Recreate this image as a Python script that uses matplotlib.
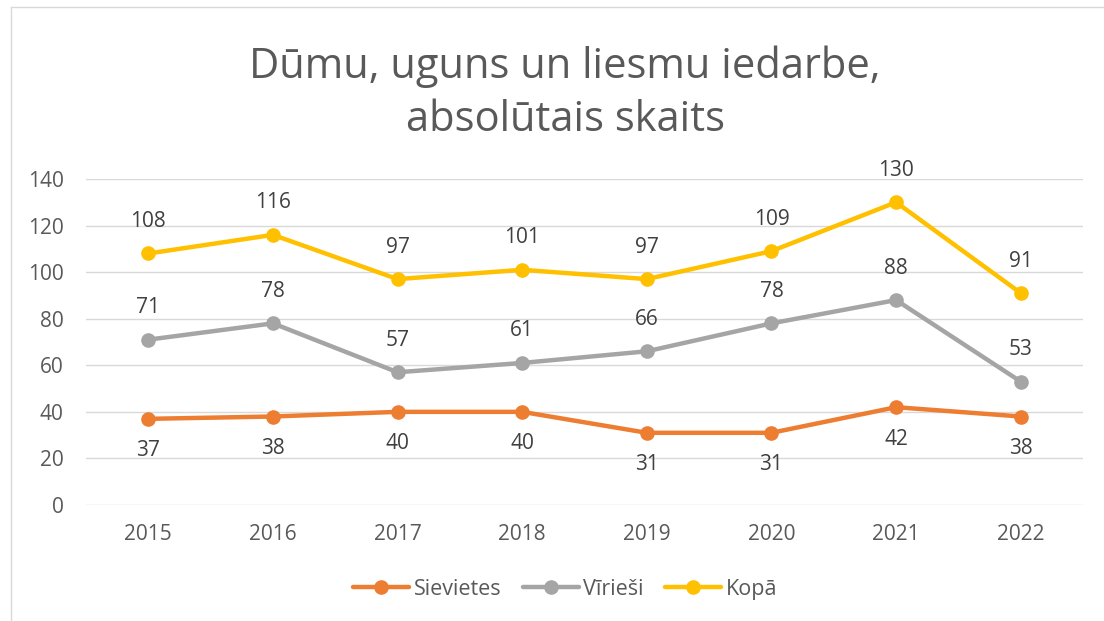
import matplotlib.pyplot as plt
from matplotlib.lines import Line2D

years = ['2015', '2016', '2017', '2018', '2019', '2020', '2021', '2022']
sievietes = [37, 38, 40, 40, 31, 31, 42, 38]
virriesi = [71, 78, 57, 61, 66, 78, 88, 53]
kopa = [108, 116, 97, 101, 97, 109, 130, 91]

plt.rcParams['font.family'] = ['Open Sans', 'DejaVu Sans']
text_color = '#595959'

fig = plt.figure(figsize=(11.04, 6.21), dpi=100)
ax = fig.add_axes([0.0779, 0.1868, 0.9031, 0.525])

x = list(range(len(years)))
series = [
    (sievietes, 'Sievietes', '#ED7D31', -1),
    (virriesi, 'Vīrieši', '#A5A5A5', 1),
    (kopa, 'Kopā', '#FFC000', 1),
]
handles = []
for vals, name, color, side in series:
    line, = ax.plot(x, vals, color=color, lw=3.2, marker='o', markersize=9.5,
                    solid_capstyle='round', label=name, zorder=3)
    handles.append(line)
    for xi, v in zip(x, vals):
        ax.annotate(str(v), (xi, v), xytext=(0, 23 * side), textcoords='offset points',
                    ha='center', va='center', fontsize=15, color='#404040')

ax.set_xlim(-0.5, len(years) - 0.5)
ax.set_ylim(0, 140)
ax.set_yticks(range(0, 141, 20))
ax.set_xticks(x)
ax.set_xticklabels(years)
ax.tick_params(length=0, labelsize=15, labelcolor=text_color)
ax.tick_params(axis='y', pad=16)
ax.tick_params(axis='x', pad=14)
ax.grid(axis='y', color='#D9D9D9', lw=1)
ax.set_axisbelow(True)
for s in ax.spines.values():
    s.set_visible(False)

fig.text(0.512, 0.85, 'Dūmu, uguns un liesmu iedarbe,\nabsolūtais skaits', ha='center', va='center',
         fontsize=30, color=text_color, linespacing=1.32)

fig.legend(handles=handles, loc='center', bbox_to_anchor=(0.512, 0.051), ncol=3, frameon=False,
           fontsize=15.5, labelcolor=text_color, handlelength=2.6, columnspacing=1.0, handletextpad=0.2)

# chart frame (cropped on right/bottom)
fig.add_artist(Line2D([0.010, 1.0], [0.989, 0.989], color='#D9D9D9', lw=1, transform=fig.transFigure))
fig.add_artist(Line2D([0.010, 0.010], [0.0, 0.989], color='#D9D9D9', lw=1, transform=fig.transFigure))

fig.savefig('out.png', dpi=100)
